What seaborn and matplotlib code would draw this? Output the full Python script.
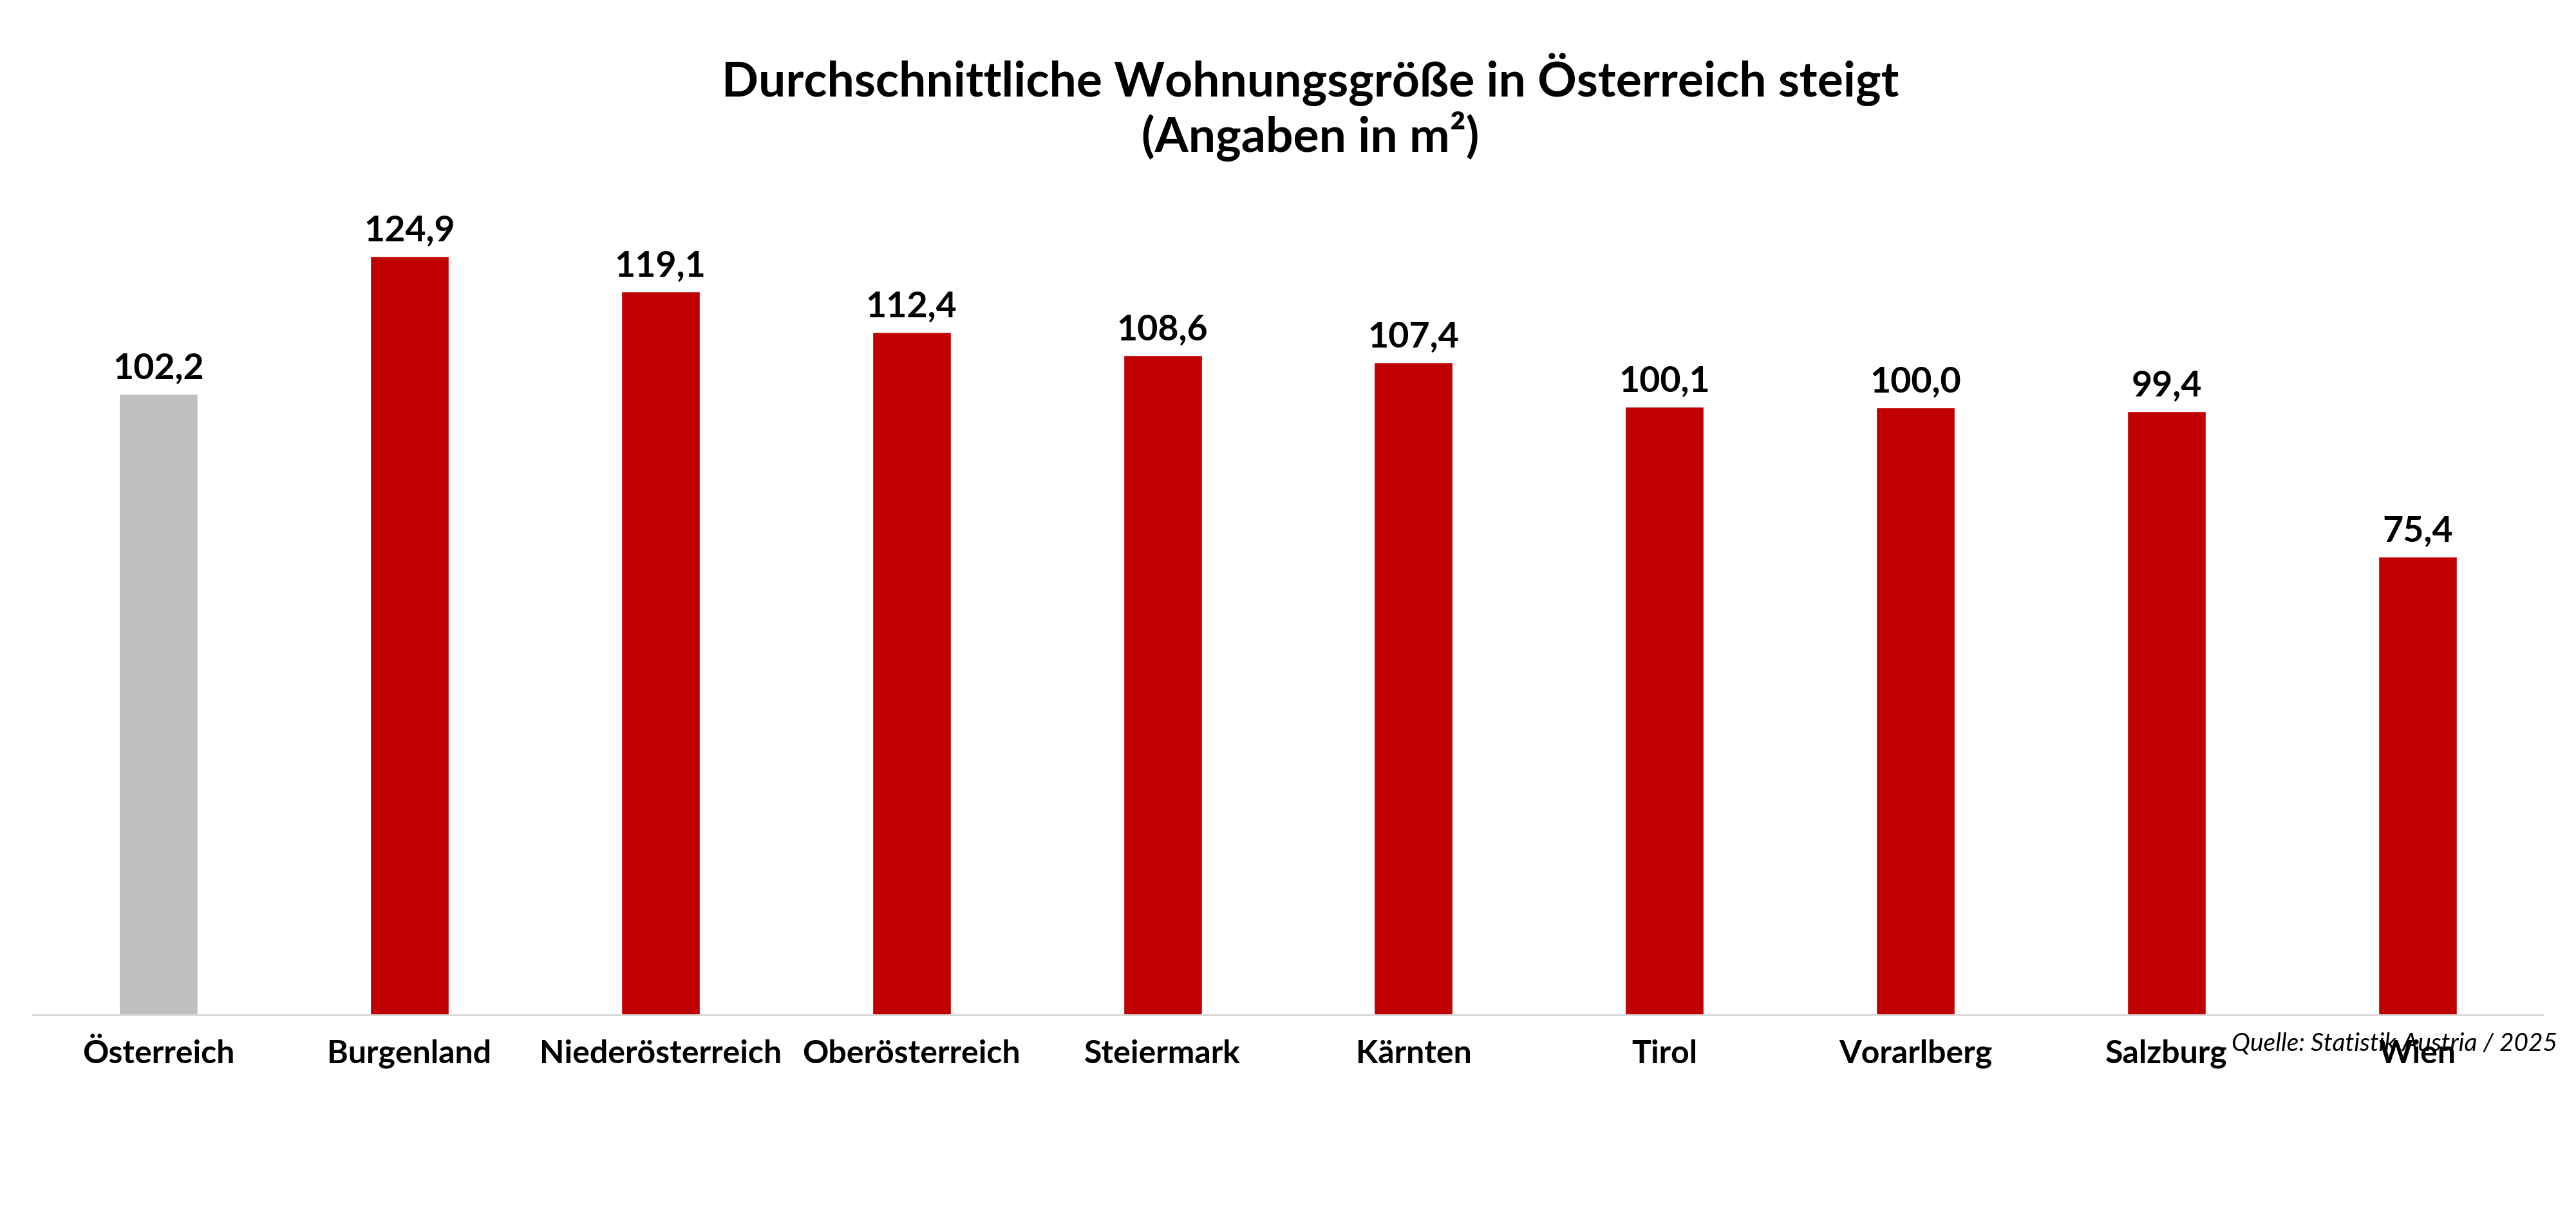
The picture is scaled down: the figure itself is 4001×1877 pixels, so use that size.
import matplotlib
matplotlib.use("Agg")
import matplotlib.pyplot as plt
import seaborn as sns
import pandas as pd

# ---- data ----
categories = ["Österreich", "Burgenland", "Niederösterreich", "Oberösterreich",
              "Steiermark", "Kärnten", "Tirol", "Vorarlberg", "Salzburg", "Wien"]
values = [102.2, 124.9, 119.1, 112.4, 108.6, 107.4, 100.1, 100.0, 99.4, 75.4]
bar_colors = ["#BFBFBF"] + ["#C00000"] * 9
title_line1 = "Durchschnittliche Wohnungsgröße in Österreich steigt"
title_line2 = "(Angaben in m²)"
source_text = "Quelle: Statistik Austria / 2025"

sns.set_theme(style="white")
FONT = ["Lato", "DejaVu Sans"]
plt.rcParams["font.family"] = FONT

W, H = 4001, 1877
fig = plt.figure(figsize=(W / 100, H / 100), dpi=100)
fig.patch.set_facecolor("white")
ax = fig.add_axes([51 / W, 1 - 1577 / H, (3950 - 51) / W, (1577 - 300) / H])

df = pd.DataFrame({"Region": categories, "Wert": values})
sns.barplot(data=df, x="Region", y="Wert", hue="Region", palette=bar_colors,
            width=0.313, legend=False, ax=ax, saturation=1)

ax.set_xlim(-0.5, len(categories) - 0.5)
ax.set_ylim(0, 135.3)
ax.set_xlabel("")
ax.set_ylabel("")
ax.set_yticks([])
for s in ["top", "right", "left"]:
    ax.spines[s].set_visible(False)
ax.spines["bottom"].set_color("#D9D9D9")
ax.spines["bottom"].set_linewidth(2.2)
ax.tick_params(axis="x", length=0, pad=27)
for lab in ax.get_xticklabels():
    lab.set_fontsize(36)
    lab.set_fontweight("bold")
    lab.set_color("black")

for cont in ax.containers:
    labs = [f"{b.get_height():.1f}".replace(".", ",") for b in cont]
    ax.bar_label(cont, labels=labs, padding=11, fontsize=40,
                 fontweight="bold", color="black")

fig.text(2035 / W, 1 - 150 / H, title_line1, ha="center", va="baseline",
         fontsize=54, fontweight="bold", color="black")
fig.text(2035 / W, 1 - 236 / H, title_line2, ha="center", va="baseline",
         fontsize=54, fontweight="bold", color="black")
fig.text(3466 / W, 1 - 1632 / H, source_text, ha="left", va="baseline",
         fontsize=28, style="italic", color="black", zorder=10)

fig.savefig("out.png", dpi=100, facecolor="white")
